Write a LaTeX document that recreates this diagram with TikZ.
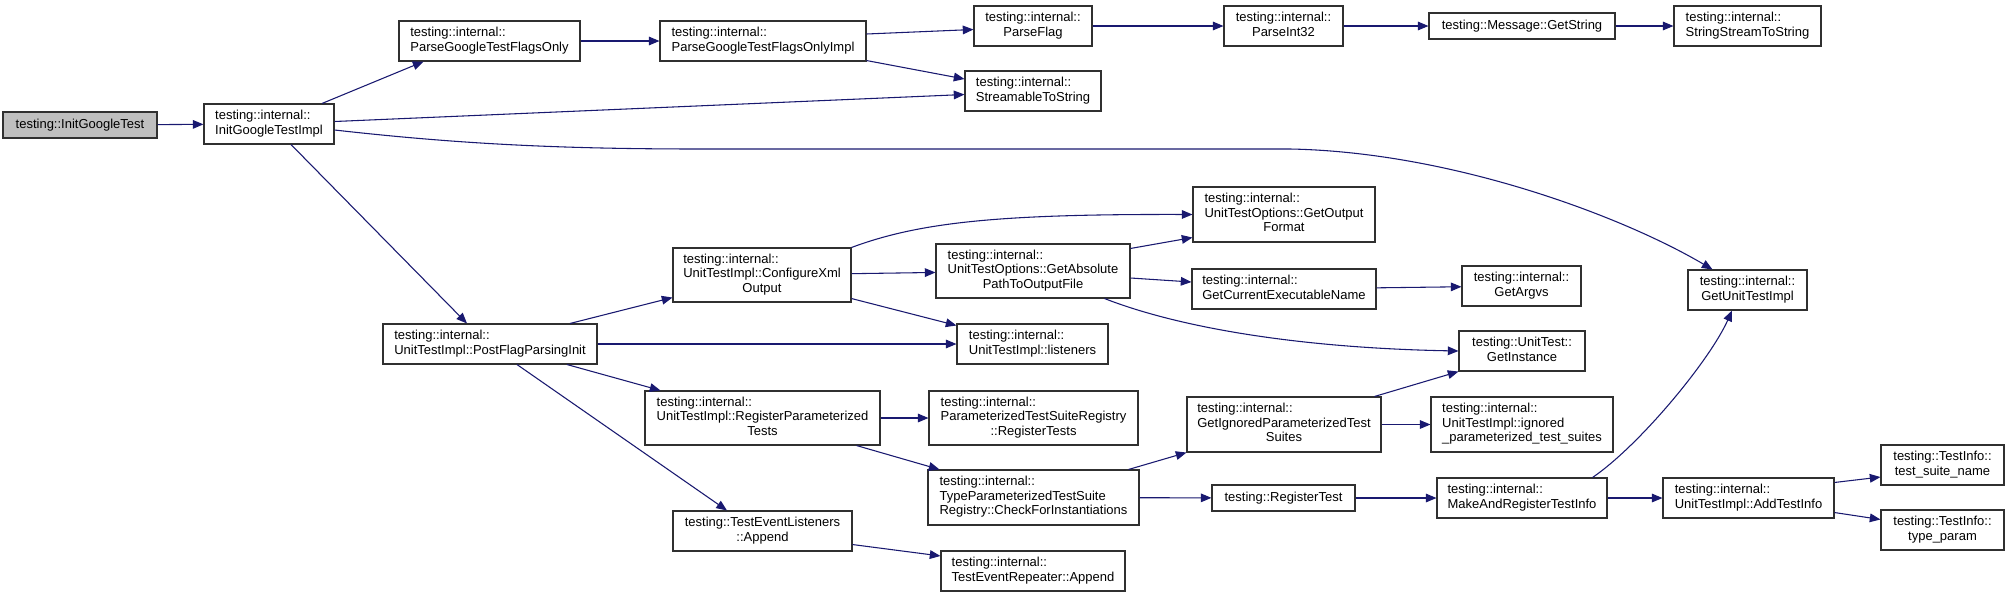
\documentclass[tikz,border=0pt]{standalone}
\usepackage{fontspec}
\setmainfont{Liberation Sans}
\usetikzlibrary{arrows.meta,calc}
\definecolor{edgecol}{HTML}{191970}
\definecolor{boxcol}{HTML}{303030}
\definecolor{rootfill}{HTML}{BFBFBF}
\newcommand\nodefont{\fontsize{9.75pt}{10.8pt}\selectfont}
\newcommand\twol[2]{\begin{tabular}{@{}l@{}}#1\\\multicolumn{1}{@{}c@{}}{#2}\end{tabular}}
\newcommand\bx[7][]{\node[box,#1,minimum width={(#5-#3)*0.75pt},minimum height={(#6-#4)*0.75pt}] (#2) at ({(#3+#5)/2},{(#4+#6)/2}) {#7};}
\tikzset{
  box/.style={draw=boxcol, line width=0.8pt, fill=white, inner sep=0pt, font=\nodefont},
  rootbox/.style={fill=rootfill},
  ed/.style={draw=edgecol, line width=0.8pt, -{Triangle[length=8pt,width=6.5pt]}}
}
\begin{document}
\begin{tikzpicture}[x=0.75pt,y=-0.75pt]
\fill[white] (0,0) rectangle (2009,597);
\useasboundingbox (0,0) rectangle (2009,597);
\bx[rootbox]{root}{3}{112}{157}{138}{testing::InitGoogleTest}
\bx{igti}{204}{104}{334}{144}{\twol{testing::internal::}{InitGoogleTestImpl}}
\bx{pgtfo}{399}{21}{580}{61}{\twol{testing::internal::}{ParseGoogleTestFlagsOnly}}
\bx{pgtfoi}{660}{21}{866}{61}{\twol{testing::internal::}{ParseGoogleTestFlagsOnlyImpl}}
\bx{pflag}{974}{6}{1092}{46}{\twol{testing::internal::}{ParseFlag}}
\bx{s2s}{965}{71}{1101}{111}{\twol{testing::internal::}{StreamableToString}}
\bx{pint}{1224}{6}{1343}{46}{\twol{testing::internal::}{ParseInt32}}
\bx{gstr}{1429}{13}{1615}{39}{testing::Message::GetString}
\bx{sss}{1674}{6}{1821}{46}{\twol{testing::internal::}{StringStreamToString}}
\bx{gof}{1193}{187}{1375}{242}{\twol{testing::internal::\\UnitTestOptions::GetOutput}{Format}}
\bx{cxo}{673}{248}{851}{302}{\twol{testing::internal::\\UnitTestImpl::ConfigureXml}{Output}}
\bx{gapo}{936}{244}{1130}{298}{\twol{testing::internal::\\UnitTestOptions::GetAbsolute}{PathToOutputFile}}
\bx{gcen}{1192}{269}{1376}{309}{\twol{testing::internal::}{GetCurrentExecutableName}}
\bx{argv}{1462}{266}{1581}{306}{\twol{testing::internal::}{GetArgvs}}
\bx{guti}{1688}{270}{1807}{310}{\twol{testing::internal::}{GetUnitTestImpl}}
\bx{pfpi}{383}{324}{597}{364}{\twol{testing::internal::}{UnitTestImpl::PostFlagParsingInit}}
\bx{lis}{957}{324}{1108}{364}{\twol{testing::internal::}{UnitTestImpl::listeners}}
\bx{ginst}{1459}{331}{1585}{371}{\twol{testing::UnitTest::}{GetInstance}}
\bx{rpt}{645}{391}{880}{445}{\twol{testing::internal::\\UnitTestImpl::RegisterParameterized}{Tests}}
\bx{ptsr}{929}{391}{1138}{445}{\twol{testing::internal::\\ParameterizedTestSuiteRegistry}{::RegisterTests}}
\bx{gipts}{1187}{397}{1381}{452}{\twol{testing::internal::\\GetIgnoredParameterizedTest}{Suites}}
\bx{ipts}{1431}{397}{1613}{452}{\twol{testing::internal::\\UnitTestImpl::ignored}{\_parameterized\_test\_suites}}
\bx{cfi}{928}{470}{1139}{525}{\twol{testing::internal::\\TypeParameterizedTestSuite}{Registry::CheckForInstantiations}}
\bx{rt}{1212}{485}{1355}{511}{testing::RegisterTest}
\bx{mrti}{1437}{478}{1607}{518}{\twol{testing::internal::}{MakeAndRegisterTestInfo}}
\bx{ati}{1663}{478}{1834}{518}{\twol{testing::internal::}{UnitTestImpl::AddTestInfo}}
\bx{tsn}{1881}{445}{2004}{485}{\twol{testing::TestInfo::}{test\_suite\_name}}
\bx{tp}{1881}{510}{2004}{550}{\twol{testing::TestInfo::}{type\_param}}
\bx{tela}{673}{511}{852}{551}{\twol{testing::TestEventListeners}{::Append}}
\bx{tera}{941}{551}{1125}{591}{\twol{testing::internal::}{TestEventRepeater::Append}}
% edges
\draw[ed] (root) -- (igti);
\draw[ed] ($(igti.north)+(53,0)$) -- ($(pgtfo.south)+(-66,0)$);
\draw[ed] ($(igti.east)+(0,-2.5)$) -- ($(s2s.west)+(0,3.5)$);
\draw[ed] ($(igti.east)+(0,6)$) .. controls (450,143) and (550,149) .. (700,149) -- (1290,149) .. controls (1450,152) and (1620,215) .. ($(guti.north)+(-35,0)$);
\draw[ed] (pgtfo) -- (pgtfoi);
\draw[ed] ($(pgtfoi.east)+(0,-7)$) -- ($(pflag.west)+(0,3.5)$);
\draw[ed] ($(pgtfoi.south east)+(0,-1)$) -- ($(s2s.west)+(0,-12)$);
\draw[ed] (pflag) -- (pint);
\draw[ed] (pint) -- (gstr);
\draw[ed] (gstr) -- (sss);
\draw[ed] ($(igti.south)+(22,0)$) -- ($(pfpi.north)+(-23,0)$);
\draw[ed] ($(pfpi.north)+(80,0)$) -- ($(cxo.south west)+(0,-5)$);
\draw[ed] (pfpi) -- (lis);
\draw[ed] ($(pfpi.south)+(77,0)$) -- ($(rpt.north west)+(16,0)$);
\draw[ed] ($(pfpi.south)+(27,0)$) -- ($(tela.north)+(-35.5,0)$);
\draw[ed] (cxo.north east) .. controls (920,222) and (1000,214) .. (gof.west);
\draw[ed] (cxo) -- (gapo);
\draw[ed] ($(cxo.south east)+(0,-4)$) -- ($(lis.north west)+(0,2)$);
\draw[ed] ($(gapo.north east)+(0,5)$) -- ($(gof.south west)+(0,-5)$);
\draw[ed] ($(gapo.east)+(0,7)$) -- ($(gcen.west)+(0,-7)$);
\draw[ed] ($(gapo.south east)+(-26,0)$) .. controls (1180,328) and (1300,348) .. (ginst.west);
\draw[ed] (gcen) -- (argv);
\draw[ed] ($(gipts.north east)+(-7,0)$) -- (ginst.south west);
\draw[ed] (rpt) -- (ptsr);
\draw[ed] ($(rpt.south east)+(-24,0)$) -- ($(cfi.north west)+(12,0)$);
\draw[ed] ($(cfi.north east)+(-11,0)$) -- (gipts.south west);
\draw[ed] (cfi) -- (rt);
\draw[ed] (rt) -- (mrti);
\draw[ed] (gipts) -- (ipts);
\draw[ed] ($(mrti.north east)+(-15,0)$) .. controls (1640,445) and (1710,360) .. ($(guti.south)+(-15.5,0)$);
\draw[ed] (mrti) -- (ati);
\draw[ed] ($(ati.north east)+(0,5)$) -- ($(tsn.south west)+(0,-8.5)$);
\draw[ed] ($(ati.south east)+(0,-6)$) -- ($(tp.north west)+(0,10)$);
\draw[ed] ($(tela.south east)+(0,-7)$) -- ($(tera.north west)+(0,5.5)$);
\end{tikzpicture}
\end{document}
